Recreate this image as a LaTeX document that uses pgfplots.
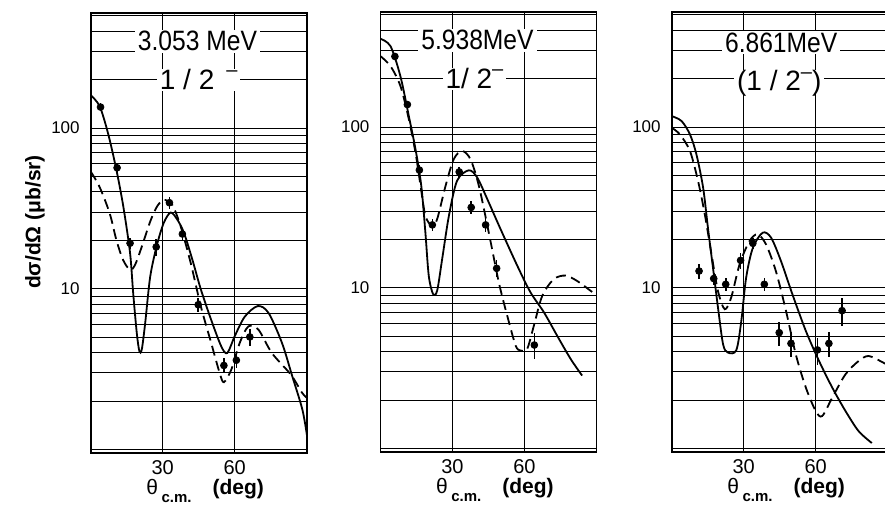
\documentclass[border=0pt]{standalone}
\usepackage{fontspec}
\setmainfont{Liberation Sans}
\usepackage{pgfplots}
\pgfplotsset{compat=1.18}

\pgfplotsset{
  every axis/.append style={
    scale only axis, width=108pt, height=220pt,
    xmin=0, xmax=90, ymin=0.95, ymax=520,
    xtick={30,60}, ytick={1,10,100}, yticklabels={,10,100},
    minor ytick={2,3,4,5,6,7,8,9,20,30,40,50,60,70,80,90,200,300,400,500},
    grid=both,
    major grid style={black, line width=0.5pt},
    minor grid style={black, line width=0.5pt},
    axis line style={line width=0.9pt},
    major tick length=0pt, minor tick length=0pt,
    xticklabel style={font=\fontsize{10}{12}\selectfont},
    yticklabel style={font=\fontsize{8.5}{10}\selectfont, xshift=-2pt},
    xlabel={θ\,\raisebox{-0.7ex}{\fontsize{7.5}{8}\selectfont\bfseries c.m.}\quad{\bfseries(deg)}},
    xlabel style={at={(axis description cs:0.53,0)}, anchor=center, yshift=-19pt,
      font=\fontsize{10.5}{12}\selectfont},
  },
}
\tikzset{
  th/.style={black, line width=0.9pt, smooth},
  dw/.style={black, line width=0.9pt, smooth, dash pattern=on 5pt off 2.8pt},
  ttl/.style={fill=white, inner xsep=1.5pt, inner ysep=0.5pt, text height=9.8pt, text depth=0.5pt,
    font=\fontsize{14}{16}\selectfont},
}
\newcommand{\mn}{\raisebox{0.85ex}{\fontsize{10}{10}\selectfont –}}

\begin{document}
\begin{tikzpicture}
\useasboundingbox (0,0) rectangle (442.5pt,253pt);

\node[rotate=90, font=\bfseries\fontsize{10.5}{12}\selectfont] at (17.5pt,142pt) {dσ/dΩ (μb/sr)};

% 3.053 MeV
\begin{axis}[ymode=log, /pgf/number format/assume math mode=true, at={(45.35pt,26.5pt)}, anchor=south west]
\addplot[th, no markers] coordinates {(0,160)(3.7,137)(7.2,93)(10.7,55)(13.6,32.4)(16.4,16.7)(17.7,9.4)(19.2,5.3)(20.3,4.08)(21.3,4.2)(22.7,6.1)(24.8,11.9)(27.6,18.7)(30.4,25.6)(33.3,29.8)(36.1,26.9)(38.9,22.2)(42.4,15.1)(45.9,9.9)(50.2,6.4)(54.4,4.38)(56.9,3.98)(60,5.06)(64.2,6.7)(69.6,7.8)(74.1,7.07)(79.7,4.6)(84,2.85)(88.2,1.77)(90.2,1.2)};
\addplot[dw, no markers] coordinates {(0,53.6)(3.7,43)(7.9,29.5)(10.7,20.1)(13.5,15.1)(16.4,13.1)(18.5,14.1)(21.3,18.3)(24.8,26.2)(27.6,32.4)(30.4,35.7)(34,33.2)(37.5,24.4)(41.7,14.4)(45.9,7.76)(50.2,4.6)(53.7,3.0)(55.5,2.62)(58.6,3.14)(62.1,4.6)(65.7,5.83)(69.9,5.56)(75.5,3.98)(83.4,2.92)(88,2.26)(90,2.1)};
\addplot[only marks, mark=*, mark size=1.7pt, black, error bars/y dir=both, error bars/y explicit, error bars/error mark=none, error bars/error bar style={line width=0.8pt}] coordinates {(4.1,135)+-(0,8)(11.0,56.6)+-(0,3)(16.4,19.2)+-(0,1.5)(27.3,18.2)+-(0,2.2)(32.8,34.3)+-(0,3)(38.2,21.9)+-(0,2)(44.8,7.95)+-(0,0.8)(55.5,3.33)+-(0,0.35)(60.7,3.59)+-(0,0.4)(66.3,5.01)+-(0,0.6)};
\node[ttl] at (rel axis cs:0.494,0.935) {\scalebox{0.88}[1]{3.053 MeV}};
\node[ttl] at (rel axis cs:0.5,0.848) {1 / 2\hspace{6pt}\mn};
\end{axis}

% 5.938 MeV
\begin{axis}[ymode=log, /pgf/number format/assume math mode=true, at={(190.25pt,27pt)}, anchor=south west]
\addplot[th, no markers] coordinates {(0,354)(4.2,318)(8.3,207)(11.8,117)(14.6,72.6)(17,43)(18.7,22.1)(20.1,11.9)(21.9,9.14)(23.6,9.58)(25.7,15.1)(28.5,28)(31.9,46.3)(36.8,53.8)(40.3,48.5)(44.5,35.6)(50,23.2)(57,13.7)(62.5,9.36)(68.1,7.03)(73.6,5.03)(79.2,3.61)(84,2.84)};
\addplot[dw, no markers] coordinates {(0,276)(4.2,239)(8.3,180)(11.8,112)(14.6,69)(16.7,43)(18.7,28)(21.5,24.3)(23.6,26.7)(27.1,43)(30.5,63)(34,71)(37.5,63)(41,43)(45.1,22.1)(49.3,10.8)(52.8,6.7)(56.3,4.37)(58.3,4.07)(61.1,4.16)(63.9,5.8)(67.4,8.9)(72.2,11.3)(77.1,11.9)(82,11.0)(87.5,9.58)(90.3,8.9)};
\addplot[only marks, mark=*, mark size=1.7pt, black, error bars/y dir=both, error bars/y explicit, error bars/error mark=none, error bars/error bar style={line width=0.8pt}] coordinates {(6.0,275)+-(0,15)(11.2,138)+-(0,8)(16.2,54)+-(0,4)(21.6,24.6)+-(0,2)(32.8,52.6)+-(0,4)(37.8,31.6)+-(0,3)(43.8,24.6)+-(0,2.5)(48.4,13.2)+-(0,1.6)(64.1,4.4)+-(0,0.8)};
\node[ttl] at (rel axis cs:0.449,0.935) {\scalebox{0.88}[1]{5.938MeV}};
\node[ttl] at (rel axis cs:0.435,0.848) {1/ 2\mn};
\end{axis}

% 6.861 MeV
\begin{axis}[ymode=log, /pgf/number format/assume math mode=true, at={(335.85pt,27pt)}, anchor=south west]
\addplot[th, no markers] coordinates {(0,117)(4.1,109)(7.6,90)(10.3,67.6)(13.1,41.9)(15.1,23.6)(17.2,13.3)(19.3,7.5)(21.4,4.45)(23.4,3.95)(26.9,4.08)(29,6.2)(31,11.5)(33.8,17.7)(37.9,22)(41.4,20.5)(45.5,14.7)(50.3,9.1)(55.9,5.38)(61.4,3.5)(66.9,2.39)(72.4,1.71)(77.9,1.28)(83.4,1.08)};
\addplot[dw, no markers] coordinates {(0,99)(3.4,90)(7.6,71)(11,46)(13.8,28.6)(16.6,16.1)(19.3,9.5)(22.1,7.35)(24.8,8.7)(28.3,14)(32.4,19.5)(35.8,21.5)(39.3,18.6)(43.4,12.7)(47.6,7.2)(51.7,3.85)(55.9,2.39)(60,1.71)(62.7,1.59)(66.9,2.07)(72.4,2.89)(77.9,3.5)(82.1,3.76)(88.3,3.41)(90,3.3)};
\addplot[only marks, mark=*, mark size=1.7pt, black, error bars/y dir=both, error bars/y explicit, error bars/error mark=none, error bars/error bar style={line width=0.8pt}] coordinates {(11.4,12.7)+-(0,1.4)(17.5,11.4)+-(0,1.0)(22.5,10.5)+-(0,1.0)(28.7,14.8)+-(0,1.7)(33.8,18.9)+-(0,1.5)(38.6,10.5)+-(0,1.0)(44.8,5.25)+-(0,0.9)(49.7,4.5)+-(0,0.8)(60.7,4.1)+-(0,0.8)(65.5,4.5)+-(0,0.8)(71,7.2)+-(0,1.4)};
\node[ttl] at (rel axis cs:0.507,0.93) {\scalebox{0.88}[1]{6.861MeV}};
\node[ttl] at (rel axis cs:0.498,0.842) {(1 / 2\mn)};
\end{axis}
\end{tikzpicture}
\end{document}
